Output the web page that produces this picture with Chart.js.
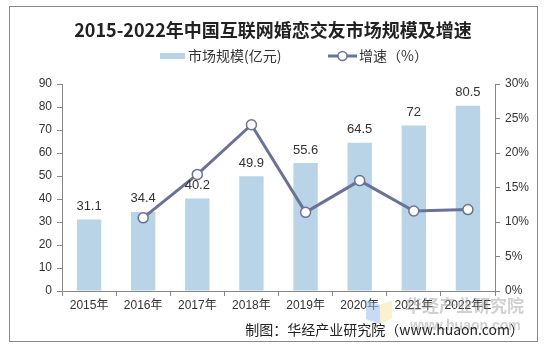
<!DOCTYPE html>
<html>
<head>
<meta charset="utf-8">
<script src="https://cdn.jsdelivr.net/npm/chart.js@4/dist/chart.umd.min.js"></script>
<style>
html,body{margin:0;padding:0;background:#fff;}
#wrap{width:548px;height:349px;position:relative;}
</style>
</head>
<body>
<div id="wrap"><canvas id="c" width="548" height="349"></canvas></div>
<script>
const categories = ['2015年','2016年','2017年','2018年','2019年','2020年','2021年','2022年E'];
const marketSize = [31.1, 34.4, 40.2, 49.9, 55.6, 64.5, 72, 80.5];
const growthRate = [null, 10.6, 16.9, 24.1, 11.4, 16.0, 11.6, 11.8];
const leftTicks = [0, 90, 10];
const rightTicks = [0, 30, 5];
const titleText = '2015-2022年中国互联网婚恋交友市场规模及增速';
const barLabel = '市场规模(亿元)';
const lineLabel = '增速（%）';
const sourceText = '制图：华经产业研究院（www.huaon.com）';

const BAR_COLOR = '#b8d4e6';
const LINE_COLOR = '#6b7298';
const AXIS_COLOR = '#868686';
const TEXT_COLOR = '#333333';
const FONT = "'Liberation Sans', Arial, 'Noto Sans CJK SC', sans-serif";
const CJK = "'Noto Sans CJK SC', 'Liberation Sans', sans-serif";
const TITLE_FONT = "'DejaVu Serif', 'Noto Sans CJK SC', serif";

const decor = {
  id: 'decor',
  beforeDraw(chart) {
    const ctx = chart.ctx;
    ctx.save();
    ctx.fillStyle = '#fff';
    ctx.fillRect(0, 0, chart.width, chart.height);
    ctx.strokeStyle = '#8a8a8a';
    ctx.lineWidth = 1;
    ctx.strokeRect(9.5, 6.5, 528, 335);
    // title
    ctx.fillStyle = '#222';
    ctx.font = "bold 18px " + CJK;
    ctx.textAlign = 'center';
    ctx.textBaseline = 'middle';
    ctx.fillText(titleText, 273, 30);
    // legend
    ctx.fillStyle = BAR_COLOR;
    ctx.fillRect(160, 53, 25, 6);
    ctx.fillStyle = TEXT_COLOR;
    ctx.font = "14px " + CJK;
    ctx.textAlign = 'left';
    ctx.fillText(barLabel, 188, 56);
    ctx.strokeStyle = LINE_COLOR;
    ctx.lineWidth = 3;
    ctx.beginPath(); ctx.moveTo(328, 56); ctx.lineTo(357, 56); ctx.stroke();
    ctx.beginPath(); ctx.arc(342.5, 56, 4.5, 0, Math.PI * 2);
    ctx.fillStyle = '#fff'; ctx.fill();
    ctx.lineWidth = 1.5; ctx.stroke();
    ctx.fillStyle = TEXT_COLOR;
    ctx.fillText(lineLabel, 359, 56);
    ctx.restore();
  },
  afterDraw(chart) {
    const ctx = chart.ctx;
    ctx.save();
    // watermark
    ctx.globalAlpha = 0.5;
    ctx.fillStyle = '#8fb8f0';
    ctx.beginPath(); ctx.moveTo(366, 300); ctx.lineTo(380, 305); ctx.lineTo(380, 324); ctx.lineTo(366, 319); ctx.closePath(); ctx.fill();
    ctx.fillStyle = '#f8e49a';
    ctx.beginPath(); ctx.moveTo(380, 305); ctx.lineTo(392, 300); ctx.lineTo(392, 319); ctx.lineTo(380, 324); ctx.closePath(); ctx.fill();
    ctx.globalAlpha = 0.4;
    ctx.fillStyle = '#8a8a8a';
    ctx.font = "bold 17px " + CJK;
    ctx.textAlign = 'left';
    ctx.textBaseline = 'middle';
    ctx.fillText('华经产业研究院', 405, 306);
    ctx.font = "bold 14px " + FONT;
    ctx.fillText('www.huaon.com', 410, 326);
    ctx.restore();
    ctx.save();
    ctx.fillStyle = '#222';
    ctx.font = "14px " + CJK;
    ctx.textAlign = 'right';
    ctx.textBaseline = 'middle';
    ctx.fillText(sourceText, 524, 330);
    ctx.restore();
  },
  afterDatasetsDraw(chart) {
    const ctx = chart.ctx;
    const meta = chart.getDatasetMeta(0);
    ctx.save();
    ctx.fillStyle = TEXT_COLOR;
    ctx.font = "13px " + FONT;
    ctx.textAlign = 'center';
    ctx.textBaseline = 'middle';
    meta.data.forEach((el, i) => {
      ctx.fillText(String(marketSize[i]), el.x, el.y - 13);
    });
    ctx.restore();
  }
};

new Chart(document.getElementById('c'), {
  type: 'bar',
  data: {
    labels: categories,
    datasets: [
      {
        type: 'bar',
        label: barLabel,
        data: marketSize,
        backgroundColor: BAR_COLOR,
        yAxisID: 'y',
        categoryPercentage: 1,
        barPercentage: 0.45,
        order: 1
      },
      {
        type: 'line',
        label: lineLabel,
        data: growthRate,
        borderColor: LINE_COLOR,
        borderWidth: 3,
        pointRadius: 5,
        pointBorderWidth: 1.5,
        pointBackgroundColor: '#fff',
        pointBorderColor: LINE_COLOR,
        tension: 0,
        yAxisID: 'y1',
        order: 0
      }
    ]
  },
  options: {
    responsive: false,
    animation: false,
    devicePixelRatio: 1,
    layout: { padding: { top: 84, left: 0, right: 0, bottom: 0 } },
    plugins: { legend: { display: false }, title: { display: false }, tooltip: { enabled: false } },
    scales: {
      x: {
        grid: { display: true, drawOnChartArea: false, drawTicks: true, tickLength: 5, color: AXIS_COLOR, offset: true },
        border: { display: true, color: AXIS_COLOR },
        ticks: { color: TEXT_COLOR, font: { size: 12, family: FONT }, padding: 2, maxRotation: 0, autoSkip: false },
        afterFit(s) { s.height = 58; }
      },
      y: {
        position: 'left',
        min: leftTicks[0], max: leftTicks[1],
        ticks: { stepSize: leftTicks[2], color: TEXT_COLOR, font: { size: 12, family: FONT }, padding: 5 },
        grid: { display: true, drawOnChartArea: false, drawTicks: true, tickLength: 5, color: AXIS_COLOR },
        border: { display: true, color: AXIS_COLOR },
        afterFit(s) { s.width = 62; }
      },
      y1: {
        position: 'right',
        min: rightTicks[0], max: rightTicks[1],
        ticks: { stepSize: rightTicks[2], color: TEXT_COLOR, font: { size: 12, family: FONT }, padding: 5, callback: v => v + '%' },
        grid: { display: true, drawOnChartArea: false, drawTicks: true, tickLength: 5, color: AXIS_COLOR },
        border: { display: true, color: AXIS_COLOR },
        afterFit(s) { s.width = 53; }
      }
    }
  },
  plugins: [decor]
});
</script>
</body>
</html>
